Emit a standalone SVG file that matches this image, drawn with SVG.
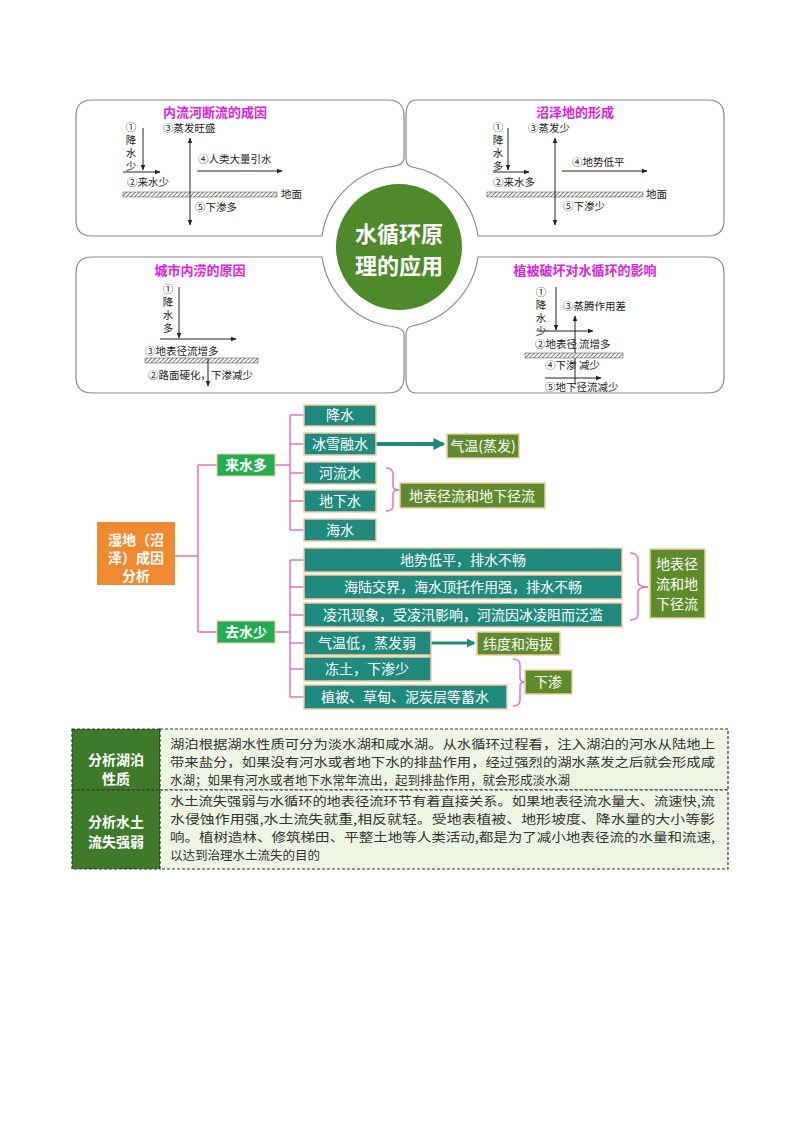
<svg xmlns="http://www.w3.org/2000/svg" width="800" height="1132" viewBox="0 0 800 1132">
<defs>
<marker id="ah" viewBox="0 0 10 10" refX="9" refY="5" markerWidth="6" markerHeight="6" orient="auto-start-reverse"><path d="M0,1 L10,5 L0,9 z" fill="#222"/></marker>
<marker id="at" viewBox="0 0 10 10" refX="8" refY="5" markerWidth="3" markerHeight="3" orient="auto"><path d="M0,0 L10,5 L0,10 z" fill="#1f8a7e"/></marker>
<pattern id="hatch" width="3" height="3" patternUnits="userSpaceOnUse" patternTransform="rotate(45)"><rect width="3" height="3" fill="#fff"/><line x1="0" y1="0" x2="0" y2="3" stroke="#444" stroke-width="1.4"/></pattern>
</defs>
<style>
.panel{fill:#fff;stroke:#888;stroke-width:1.2}
.ttl{font-family:"Noto Sans CJK SC",sans-serif;font-weight:bold;font-size:13px;fill:#e020e0;text-anchor:middle}
.lb{font-family:"Noto Sans CJK SC",sans-serif;font-size:10.5px;fill:#222}
.ar{stroke:#222;stroke-width:1;fill:none;marker-end:url(#ah)}
.ar2{stroke:#222;stroke-width:1;fill:none;marker-end:url(#ah);marker-start:url(#ah)}
.gnd{fill:url(#hatch);stroke:#444;stroke-width:0.5}
.teal{fill:#1f8a7e;stroke:#f6c9a0;stroke-width:1.5}
.olive{fill:#5e8c2b;stroke:#f6c9a0;stroke-width:1.5}
.wt{font-family:"Noto Sans CJK SC",sans-serif;font-size:14px;fill:#fff;text-anchor:middle}
.wb{font-family:"Noto Sans CJK SC",sans-serif;font-size:14px;font-weight:bold;fill:#fff;text-anchor:middle}
.pk{stroke:#e870c0;stroke-width:1.5;fill:none}
.tx{font-family:"Noto Sans CJK SC",sans-serif;font-size:12.5px;fill:#333}
.cell{stroke:#333;stroke-width:1.2;stroke-dasharray:3,2}
</style>
<g id="panels">
<path id="p-tl" class="panel" d="M92,100 H388 Q404,100 404,116 V158 Q404,166 388,167 A82,82 0 0 0 322,236 H92 Q76,236 76,220 V116 Q76,100 92,100 Z"/>
<path id="p-tr" class="panel" transform="translate(800,0) scale(-1,1)" d="M92,100 H384 Q394,100 394,116 V158 Q394,166 388,167 A82,82 0 0 0 322,236 H92 Q76,236 76,220 V116 Q76,100 92,100 Z"/>
<path id="p-bl" class="panel" transform="translate(0,493) scale(1,-1)" d="M92,100 H388 Q404,100 404,116 V158 Q404,166 388,167 A82,82 0 0 0 322,236 H92 Q76,236 76,220 V116 Q76,100 92,100 Z"/>
<path id="p-br" class="panel" transform="translate(800,493) scale(-1,-1)" d="M92,100 H384 Q394,100 394,116 V158 Q394,166 388,167 A82,82 0 0 0 322,236 H92 Q76,236 76,220 V116 Q76,100 92,100 Z"/>
</g>
<g id="center">
<circle cx="399" cy="247" r="63" fill="#4f8a2a"/>
<text x="399" y="242" class="wb" style="font-size:22px">水循环原</text>
<text x="399" y="274" class="wb" style="font-size:22px">理的应用</text>
</g>
<g id="tl">
<text x="215" y="117" class="ttl">内流河断流的成因</text>
<text x="131" y="131" class="lb" text-anchor="middle">①</text>
<text x="131" y="144" class="lb" text-anchor="middle">降</text>
<text x="131" y="157" class="lb" text-anchor="middle">水</text>
<text x="131" y="170" class="lb" text-anchor="middle">少</text>
<line x1="143" y1="128" x2="143" y2="170" class="ar"/>
<line x1="123" y1="172" x2="160" y2="172" class="ar"/>
<text x="127" y="186" class="lb">②来水少</text>
<rect x="123" y="192" width="154" height="5" class="gnd"/>
<text x="281" y="198" class="lb">地面</text>
<line x1="190" y1="138" x2="190" y2="225" class="ar2"/>
<text x="163" y="132" class="lb">③蒸发旺盛</text>
<text x="198" y="163" class="lb">④人类大量引水</text>
<line x1="197" y1="171" x2="282" y2="171" class="ar"/>
<text x="195" y="211" class="lb">⑤下渗多</text>
</g>
<g id="tr">
<text x="575" y="117" class="ttl">沼泽地的形成</text>
<text x="498" y="131" class="lb" text-anchor="middle">①</text>
<text x="498" y="144" class="lb" text-anchor="middle">降</text>
<text x="498" y="157" class="lb" text-anchor="middle">水</text>
<text x="498" y="170" class="lb" text-anchor="middle">多</text>
<line x1="508" y1="128" x2="508" y2="170" class="ar"/>
<line x1="493" y1="172" x2="529" y2="172" class="ar"/>
<text x="493" y="186" class="lb">②来水多</text>
<rect x="487" y="192" width="156" height="5" class="gnd"/>
<text x="646" y="198" class="lb">地面</text>
<line x1="555" y1="138" x2="555" y2="225" class="ar2"/>
<text x="528" y="132" class="lb">③蒸发少</text>
<text x="572" y="166" class="lb">④地势低平</text>
<line x1="562" y1="171" x2="647" y2="171" class="ar"/>
<text x="563" y="210" class="lb">⑤下渗少</text>
</g>
<g id="bl">
<text x="200" y="275" class="ttl">城市内涝的原因</text>
<text x="168" y="293" class="lb" text-anchor="middle">①</text>
<text x="168" y="306" class="lb" text-anchor="middle">降</text>
<text x="168" y="319" class="lb" text-anchor="middle">水</text>
<text x="168" y="332" class="lb" text-anchor="middle">多</text>
<line x1="179" y1="287" x2="179" y2="338" class="ar"/>
<line x1="160" y1="339" x2="236" y2="339" class="ar"/>
<text x="145" y="355" class="lb">③地表径流增多</text>
<rect x="145" y="358" width="113" height="5" class="gnd"/>
<line x1="208" y1="358" x2="208" y2="386" class="ar"/>
<text x="148" y="379" class="lb">②路面硬化，下渗减少</text>
</g>
<g id="br">
<text x="585" y="275" class="ttl">植被破坏对水循环的影响</text>
<text x="541" y="296" class="lb" text-anchor="middle">①</text>
<text x="541" y="309" class="lb" text-anchor="middle">降</text>
<text x="541" y="322" class="lb" text-anchor="middle">水</text>
<text x="541" y="335" class="lb" text-anchor="middle">少</text>
<line x1="556" y1="287" x2="556" y2="330" class="ar"/>
<line x1="538" y1="331" x2="593" y2="331" class="ar"/>
<line x1="575" y1="385" x2="575" y2="316" class="ar"/>
<text x="563" y="310" class="lb">③蒸腾作用差</text>
<text x="535" y="348" class="lb">②地表径</text><text x="579" y="348" class="lb">流增多</text>
<rect x="525" y="353" width="98" height="5" class="gnd"/>
<text x="545" y="369" class="lb">④下渗</text><text x="579" y="369" class="lb">减少</text>
<line x1="545" y1="378" x2="601" y2="378" class="ar"/>
<text x="545" y="391" class="lb">⑤地下径流减少</text>
</g>
<g id="connectors">
<path class="pk" d="M175,556 H198 M198,465 V632 M198,465 H217 M198,632 H217"/>
<path class="pk" d="M275,465 H290 M290,415 V530 M290,415 H304 M290,444 H304 M290,473 H304 M290,501 H304 M290,530 H304"/>
<path class="pk" d="M275,632 H290 M290,560 V697 M290,560 H304 M290,587 H304 M290,615 H304 M290,643 H304 M290,669 H304 M290,697 H304"/>
<path class="pk" d="M386,468 Q393,468 393,474 V486 Q393,490 399,490 Q393,490 393,494 V506 Q393,511 386,511"/>
<path class="pk" d="M630,553 Q638,553 638,560 V582 Q638,587 648,587 Q638,587 638,592 V614 Q638,620 630,620"/>
<path class="pk" d="M513,659 Q520,659 520,665 V678 Q520,682 525,682 Q520,682 520,686 V700 Q520,706 513,706"/>
<line x1="376" y1="444" x2="443" y2="444" stroke="#1f8a7e" stroke-width="4" marker-end="url(#at)"/>
<line x1="431" y1="643" x2="474" y2="643" stroke="#1f8a7e" stroke-width="3" marker-end="url(#at)"/>
</g>
<g id="n-root"><rect x="97" y="522" width="78" height="63" fill="#f08a30"/><text x="136" y="545" class="wb">湿地（沼</text><text x="136" y="563" class="wb">泽）成因</text><text x="136" y="581" class="wb">分析</text></g>
<g id="n-lai"><rect x="217" y="454" width="58" height="22" fill="#1fae50" stroke="#f6c9a0"/><text x="246" y="470" class="wb">来水多</text></g>
<g id="n-qu"><rect x="217" y="621" width="58" height="22" fill="#1fae50" stroke="#f6c9a0"/><text x="246" y="637" class="wb">去水少</text></g>
<g id="n1"><rect x="304" y="405" width="72" height="21" class="teal"/><text x="340" y="420" class="wt">降水</text></g>
<g id="n2"><rect x="304" y="433" width="72" height="22" class="teal"/><text x="340" y="449" class="wt">冰雪融水</text></g>
<g id="n3"><rect x="304" y="462" width="72" height="22" class="teal"/><text x="340" y="478" class="wt">河流水</text></g>
<g id="n4"><rect x="304" y="490" width="72" height="22" class="teal"/><text x="340" y="506" class="wt">地下水</text></g>
<g id="n5"><rect x="304" y="519" width="72" height="22" class="teal"/><text x="340" y="535" class="wt">海水</text></g>
<g id="n6"><rect x="447" y="434" width="72" height="24" class="olive"/><text x="483" y="451" class="wt">气温(蒸发)</text></g>
<g id="n7"><rect x="400" y="483" width="145" height="25" class="olive"/><text x="472" y="501" class="wt">地表径流和地下径流</text></g>
<g id="n8"><rect x="304" y="548" width="318" height="24" class="teal"/><text x="463" y="565" class="wt">地势低平，排水不畅</text></g>
<g id="n9"><rect x="304" y="575" width="318" height="24" class="teal"/><text x="463" y="592" class="wt">海陆交界，海水顶托作用强，排水不畅</text></g>
<g id="n10"><rect x="304" y="603" width="318" height="24" class="teal"/><text x="463" y="620" class="wt">凌汛现象，受凌汛影响，河流因冰凌阻而泛滥</text></g>
<g id="n11"><rect x="304" y="631" width="127" height="24" class="teal"/><text x="367" y="648" class="wt">气温低，蒸发弱</text></g>
<g id="n12"><rect x="304" y="657" width="127" height="24" class="teal"/><text x="367" y="674" class="wt">冻土，下渗少</text></g>
<g id="n13"><rect x="304" y="685" width="203" height="24" class="teal"/><text x="405" y="702" class="wt">植被、草甸、泥炭层等蓄水</text></g>
<g id="n14"><rect x="650" y="549" width="55" height="69" class="olive"/><text x="677" y="569" class="wt">地表径</text><text x="677" y="589" class="wt">流和地</text><text x="677" y="609" class="wt">下径流</text></g>
<g id="n15"><rect x="477" y="632" width="83" height="23" class="olive"/><text x="518" y="649" class="wt">纬度和海拔</text></g>
<g id="n16"><rect x="525" y="670" width="47" height="24" class="olive"/><text x="548" y="687" class="wt">下渗</text></g>
<g id="table">
<rect x="72" y="729" width="88" height="61" fill="#3f7a2a" class="cell"/>
<rect x="160" y="729" width="568" height="61" fill="#eef5e4" class="cell"/>
<rect x="72" y="790" width="88" height="79" fill="#3f7a2a" class="cell"/>
<rect x="160" y="790" width="568" height="79" fill="#eef5e4" class="cell"/>
<text x="116" y="765" class="wb">分析湖泊</text><text x="116" y="784" class="wb">性质</text>
<text x="116" y="827" class="wb">分析水土</text><text x="116" y="847" class="wb">流失强弱</text>
<text x="170" y="749" class="tx" textLength="545" lengthAdjust="spacingAndGlyphs">湖泊根据湖水性质可分为淡水湖和咸水湖。从水循环过程看，注入湖泊的河水从陆地上</text>
<text x="170" y="767" class="tx" textLength="545" lengthAdjust="spacingAndGlyphs">带来盐分，如果没有河水或者地下水的排盐作用，经过强烈的湖水蒸发之后就会形成咸</text>
<text x="170" y="785" class="tx">水湖；如果有河水或者地下水常年流出，起到排盐作用，就会形成淡水湖</text>
<text x="170" y="806" class="tx" textLength="545" lengthAdjust="spacingAndGlyphs">水土流失强弱与水循环的地表径流环节有着直接关系。如果地表径流水量大、流速快,流</text>
<text x="170" y="824" class="tx" textLength="545" lengthAdjust="spacingAndGlyphs">水侵蚀作用强,水土流失就重,相反就轻。受地表植被、地形坡度、降水量的大小等影</text>
<text x="170" y="842" class="tx" textLength="545" lengthAdjust="spacingAndGlyphs">响。植树造林、修筑梯田、平整土地等人类活动,都是为了减小地表径流的水量和流速,</text>
<text x="170" y="860" class="tx">以达到治理水土流失的目的</text>
</g>
</svg>
